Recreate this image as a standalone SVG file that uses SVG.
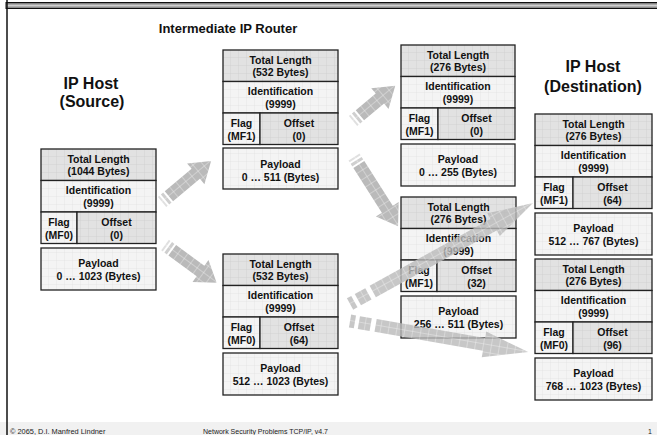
<svg xmlns="http://www.w3.org/2000/svg" width="657" height="435" viewBox="0 0 657 435">
<defs>
<linearGradient id="band" x1="0" y1="0" x2="0" y2="1">
<stop offset="0" stop-color="#5a5a5a"/><stop offset="0.5" stop-color="#d0d0d0"/><stop offset="1" stop-color="#6a6a6a"/>
</linearGradient>
<pattern id="gd" width="8" height="8" patternUnits="userSpaceOnUse"><rect width="8" height="8" fill="#e2e2e2"/><path d="M8 0V8M0 8H8" stroke="#cdcdcd" stroke-width="0.7"/></pattern>
<pattern id="gl" width="8" height="8" patternUnits="userSpaceOnUse"><rect width="8" height="8" fill="#f4f4f4"/><path d="M8 0V8M0 8H8" stroke="#e0e0e0" stroke-width="0.7"/></pattern>
<pattern id="ga" width="8" height="8" patternUnits="userSpaceOnUse"><rect width="8" height="8" fill="#bababa"/><path d="M8 0V8M0 8H8" stroke="#ebebeb" stroke-width="0.9"/></pattern>
<style>
.d{fill:url(#gd);stroke:#222;stroke-width:1.3}
.l{fill:url(#gl);stroke:#222;stroke-width:1.3}
.t{font-family:"Liberation Sans",Arial,sans-serif;font-weight:bold;font-size:10.5px;fill:#111;text-anchor:middle}
.h{font-family:"Liberation Sans",Arial,sans-serif;font-weight:bold;font-size:16px;fill:#111;text-anchor:middle}
.f{font-family:"Liberation Sans",Arial,sans-serif;font-size:7px;fill:#222}
.a{fill:url(#ga)}
.a1{fill:url(#ga);opacity:0.45}
.a2{fill:url(#ga);opacity:0.7}
.ao{opacity:0.8}
</style>
</defs>
<rect width="657" height="435" fill="#fff"/>
<rect x="0" y="422" width="657" height="13" fill="#f1f1f1"/>
<rect x="6" y="2.5" width="652" height="6" fill="url(#band)" stroke="#111" stroke-width="1"/>
<line x1="7" y1="0" x2="7" y2="435" stroke="#111" stroke-width="1.5"/>

<text class="f" x="10" y="434" style="font-size:7.4px">© 2065, D.I. Manfred Lindner</text>
<text class="f" x="203" y="434">Network Security Problems TCP/IP, v4.7</text>
<text class="f" x="648" y="434">1</text>

<text class="h" x="228" y="33" style="font-size:13px">Intermediate IP Router</text>
<g id="label-source"><text class="h" x="91" y="88.5">IP Host</text><text class="h" x="92" y="106.5">(Source)</text></g>
<g id="label-dest"><text class="h" x="593" y="72">IP Host</text><text class="h" x="593" y="91.5">(Destination)</text></g>

<g id="src" transform="translate(41,149)">
<rect class="d" x="0" y="0" width="115" height="31.5"/>
<rect class="l" x="0" y="31.5" width="115" height="31.5"/>
<rect class="l" x="0" y="63" width="36" height="31.5"/>
<rect class="d" x="36" y="63" width="79" height="31.5"/>
<rect class="l" x="0" y="99" width="115" height="42"/>
<text class="t" x="57.5" y="13.5">Total Length</text><text class="t" x="57.5" y="26">(1044 Bytes)</text>
<text class="t" x="57.5" y="45">Identification</text><text class="t" x="57.5" y="57.5">(9999)</text>
<text class="t" x="18" y="77">Flag</text><text class="t" x="18" y="89.5">(MF0)</text>
<text class="t" x="75.5" y="77">Offset</text><text class="t" x="75.5" y="89.5">(0)</text>
<text class="t" x="57.5" y="117.5">Payload</text><text class="t" x="57.5" y="130.5">0 … 1023 (Bytes)</text>
</g>

<g id="r1" transform="translate(223,50)">
<rect class="d" x="0" y="0" width="115" height="31.5"/>
<rect class="l" x="0" y="31.5" width="115" height="31.5"/>
<rect class="l" x="0" y="63" width="37" height="31.5"/>
<rect class="d" x="37" y="63" width="78" height="31.5"/>
<rect class="l" x="0" y="98" width="115" height="41"/>
<text class="t" x="57.5" y="13.5">Total Length</text><text class="t" x="57.5" y="26">(532 Bytes)</text>
<text class="t" x="57.5" y="45">Identification</text><text class="t" x="57.5" y="57.5">(9999)</text>
<text class="t" x="18.5" y="77">Flag</text><text class="t" x="18.5" y="89.5">(MF1)</text>
<text class="t" x="76" y="77">Offset</text><text class="t" x="76" y="89.5">(0)</text>
<text class="t" x="57.5" y="118">Payload</text><text class="t" x="57.5" y="131">0 … 511 (Bytes)</text>
</g>

<g id="r2" transform="translate(223,254)">
<rect class="d" x="0" y="0" width="115" height="31.5"/>
<rect class="l" x="0" y="31.5" width="115" height="31.5"/>
<rect class="l" x="0" y="63" width="37" height="31.5"/>
<rect class="d" x="37" y="63" width="78" height="31.5"/>
<rect class="l" x="0" y="99" width="115" height="42"/>
<text class="t" x="57.5" y="13.5">Total Length</text><text class="t" x="57.5" y="26">(532 Bytes)</text>
<text class="t" x="57.5" y="45">Identification</text><text class="t" x="57.5" y="57.5">(9999)</text>
<text class="t" x="18.5" y="77">Flag</text><text class="t" x="18.5" y="89.5">(MF0)</text>
<text class="t" x="76" y="77">Offset</text><text class="t" x="76" y="89.5">(64)</text>
<text class="t" x="57.5" y="117.5">Payload</text><text class="t" x="57.5" y="130.5">512 … 1023 (Bytes)</text>
</g>

<g id="f1" transform="translate(401,45)">
<rect class="d" x="0" y="0" width="114" height="31.5"/>
<rect class="l" x="0" y="31.5" width="114" height="31.5"/>
<rect class="l" x="0" y="63" width="37" height="31.5"/>
<rect class="d" x="37" y="63" width="77" height="31.5"/>
<rect class="l" x="0" y="99" width="114" height="42"/>
<text class="t" x="57" y="13.5">Total Length</text><text class="t" x="57" y="26">(276 Bytes)</text>
<text class="t" x="57" y="45">Identification</text><text class="t" x="57" y="57.5">(9999)</text>
<text class="t" x="18.5" y="77">Flag</text><text class="t" x="18.5" y="89.5">(MF1)</text>
<text class="t" x="75.5" y="77">Offset</text><text class="t" x="75.5" y="89.5">(0)</text>
<text class="t" x="57" y="117.5">Payload</text><text class="t" x="57" y="130.5">0 … 255 (Bytes)</text>
</g>

<g id="f2" transform="translate(401,197)">
<rect class="d" x="0" y="0" width="115" height="31.5"/>
<rect class="l" x="0" y="31.5" width="115" height="31.5"/>
<rect class="l" x="0" y="63" width="36" height="31.5"/>
<rect class="d" x="36" y="63" width="79" height="31.5"/>
<rect class="l" x="0" y="99" width="115" height="42"/>
<text class="t" x="57.5" y="13.5">Total Length</text><text class="t" x="57.5" y="26">(276 Bytes)</text>
<text class="t" x="57.5" y="45">Identification</text><text class="t" x="57.5" y="57.5">(9999)</text>
<text class="t" x="18" y="77">Flag</text><text class="t" x="18" y="89.5">(MF1)</text>
<text class="t" x="75.5" y="77">Offset</text><text class="t" x="75.5" y="89.5">(32)</text>
<text class="t" x="57.5" y="117.5">Payload</text><text class="t" x="57.5" y="130.5">256 … 511 (Bytes)</text>
</g>

<g id="d1" transform="translate(535,114)">
<rect class="d" x="0" y="0" width="117" height="31.5"/>
<rect class="l" x="0" y="31.5" width="117" height="31.5"/>
<rect class="l" x="0" y="63" width="38" height="31.5"/>
<rect class="d" x="38" y="63" width="79" height="31.5"/>
<rect class="l" x="0" y="99" width="117" height="42"/>
<text class="t" x="58.5" y="13.5">Total Length</text><text class="t" x="58.5" y="26">(276 Bytes)</text>
<text class="t" x="58.5" y="45">Identification</text><text class="t" x="58.5" y="57.5">(9999)</text>
<text class="t" x="19" y="77">Flag</text><text class="t" x="19" y="89.5">(MF1)</text>
<text class="t" x="77.5" y="77">Offset</text><text class="t" x="77.5" y="89.5">(64)</text>
<text class="t" x="58.5" y="117.5">Payload</text><text class="t" x="58.5" y="130.5">512 … 767 (Bytes)</text>
</g>

<g id="d2" transform="translate(535,259)">
<rect class="d" x="0" y="0" width="117" height="31.5"/>
<rect class="l" x="0" y="31.5" width="117" height="31.5"/>
<rect class="l" x="0" y="63" width="38" height="31.5"/>
<rect class="d" x="38" y="63" width="79" height="31.5"/>
<rect class="l" x="0" y="99" width="117" height="42"/>
<text class="t" x="58.5" y="13.5">Total Length</text><text class="t" x="58.5" y="26">(276 Bytes)</text>
<text class="t" x="58.5" y="45">Identification</text><text class="t" x="58.5" y="57.5">(9999)</text>
<text class="t" x="19" y="77">Flag</text><text class="t" x="19" y="89.5">(MF0)</text>
<text class="t" x="77.5" y="77">Offset</text><text class="t" x="77.5" y="89.5">(96)</text>
<text class="t" x="58.5" y="117.5">Payload</text><text class="t" x="58.5" y="130.5">768 … 1023 (Bytes)</text>
</g>

<g id="connectors">
<g transform="translate(162,202) rotate(-39.9)">
<rect class="a1" x="0" y="-6.5" width="2" height="13"/><rect class="a2" x="4" y="-6.5" width="3" height="13"/>
<path class="a" d="M9,-6.5H44V-13.5L64,0L44,13.5V6.5H9Z"/>
</g>
<g transform="translate(165,245) rotate(36.2)">
<rect class="a1" x="0" y="-6.5" width="2" height="13"/><rect class="a2" x="4" y="-6.5" width="3" height="13"/>
<path class="a" d="M9,-6.5H44V-13.5L64,0L44,13.5V6.5H9Z"/>
</g>
<g transform="translate(353,121) rotate(-39.8)">
<rect class="a1" x="0" y="-6.5" width="2" height="13"/><rect class="a2" x="4" y="-6.5" width="3" height="13"/>
<path class="a" d="M9,-6.5H35V-13.5L55,0L35,13.5V6.5H9Z"/>
</g>
<g transform="translate(354,157) rotate(57.5)">
<rect class="a1" x="0" y="-6.5" width="2" height="13"/><rect class="a2" x="4" y="-6.5" width="3" height="13"/>
<path class="a" d="M9,-6.5H62V-13.5L82,0L62,13.5V6.5H9Z"/>
</g>
<g class="ao" transform="translate(350,304) rotate(-28.9)">
<rect class="a" x="0" y="-6.5" width="5" height="13"/><rect class="a" x="9" y="-6.5" width="12" height="13"/>
<path class="a" d="M26,-6.5H164V-13L209,0L164,13V6.5H26Z"/>
</g>
<g class="ao" transform="translate(350,321) rotate(9.9)">
<rect class="a" x="0" y="-6.5" width="5" height="13"/><rect class="a" x="9" y="-6.5" width="12" height="13"/>
<path class="a" d="M26,-6.5H136V-13L181,0L136,13V6.5H26Z"/>
</g>
</g>
</svg>
